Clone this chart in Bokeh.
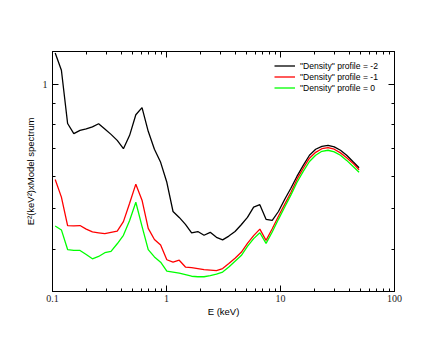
from bokeh.plotting import figure
from bokeh.models import (FixedTicker, CustomJSTickFormatter, LogAxis, Legend,
                          LegendItem, Range1d)
from bokeh.embed import file_html
from bokeh.resources import INLINE

# Energy grid (keV)
energy = [0.1056, 0.1197, 0.1357, 0.1538, 0.1743, 0.1976, 0.2239, 0.2538, 0.2877, 0.3261,
          0.3696, 0.4189, 0.4748, 0.5382, 0.6100, 0.6914, 0.7836, 0.8882, 1.0067, 1.141,
          1.293, 1.466, 1.661, 1.883, 2.134, 2.419, 2.742, 3.108, 3.522, 3.992,
          4.525, 5.129, 5.813, 6.589, 7.468, 8.464, 9.594, 10.87, 12.33, 13.97,
          15.84, 17.95, 20.34, 23.06, 26.13, 29.62, 33.57, 38.05, 43.13, 48.88]

# "Density" profile = -2
prof_m2 = [1.19, 1.081, 0.804, 0.760, 0.774, 0.780, 0.789, 0.803, 0.780, 0.757,
           0.732, 0.699, 0.753, 0.844, 0.878, 0.770, 0.697, 0.648, 0.580, 0.493,
           0.477, 0.459, 0.438, 0.441, 0.432, 0.439, 0.427, 0.421, 0.430, 0.441,
           0.458, 0.477, 0.505, 0.512, 0.472, 0.469, 0.493, 0.527, 0.561, 0.600,
           0.637, 0.674, 0.697, 0.708, 0.712, 0.706, 0.693, 0.674, 0.651, 0.629]

# "Density" profile = -1
prof_m1 = [0.589, 0.534, 0.456, 0.455, 0.456, 0.447, 0.440, 0.438, 0.436, 0.439,
           0.442, 0.466, 0.516, 0.574, 0.525, 0.449, 0.422, 0.409, 0.377, 0.372,
           0.376, 0.362, 0.361, 0.359, 0.357, 0.356, 0.355, 0.359, 0.369, 0.380,
           0.393, 0.413, 0.431, 0.447, 0.420, 0.448, 0.480, 0.513, 0.548, 0.590,
           0.627, 0.663, 0.685, 0.699, 0.703, 0.697, 0.683, 0.665, 0.645, 0.622]

# "Density" profile = 0
prof_0 = [0.455, 0.445, 0.399, 0.397, 0.397, 0.388, 0.379, 0.384, 0.392, 0.395,
          0.412, 0.432, 0.469, 0.519, 0.454, 0.399, 0.383, 0.372, 0.354, 0.352,
          0.350, 0.347, 0.344, 0.343, 0.343, 0.345, 0.348, 0.352, 0.362, 0.374,
          0.386, 0.406, 0.424, 0.438, 0.413, 0.440, 0.472, 0.505, 0.540, 0.580,
          0.616, 0.651, 0.674, 0.689, 0.693, 0.687, 0.674, 0.655, 0.634, 0.613]

series_labels = ['"Density" profile = -2', '"Density" profile = -1', '"Density" profile = 0']
series_colors = ["#000000", "#ff0000", "#00ff00"]

x_major = [0.1, 1, 10, 100]
x_minor = [0.2, 0.3, 0.4, 0.5, 0.6, 0.7, 0.8, 0.9, 2, 3, 4, 5, 6, 7, 8, 9,
           20, 30, 40, 50, 60, 70, 80, 90]
y_major = [1]
y_minor = [0.4, 0.5, 0.6, 0.7, 0.8, 0.9]

p = figure(width=436, height=335, x_axis_type="log", y_axis_type="log",
           x_range=Range1d(0.1, 100), y_range=Range1d(0.316, 1.2),
           output_backend="svg", toolbar_location=None,
           min_border_left=52, min_border_right=42, min_border_top=51,
           min_border_bottom=44)
p.xgrid.visible = False
p.ygrid.visible = False
p.outline_line_color = "black"
p.outline_line_width = 1
p.background_fill_color = "white"
p.border_fill_color = "white"

fmt = CustomJSTickFormatter(code="return tick.toString();")
blank = CustomJSTickFormatter(code="return '';")

def style_axis(ax, major, minor, formatter):
    ax.ticker = FixedTicker(ticks=major, minor_ticks=minor)
    ax.formatter = formatter
    ax.major_tick_in = 6
    ax.major_tick_out = 0
    ax.minor_tick_in = 3
    ax.minor_tick_out = 0
    ax.axis_line_color = "black"
    ax.major_tick_line_color = "black"
    ax.minor_tick_line_color = "black"
    ax.major_label_text_font = "Liberation Serif"
    ax.major_label_text_font_size = "10px"
    ax.major_label_text_color = "#222222"
    ax.axis_label_text_font = "Liberation Sans"
    ax.axis_label_text_font_size = "9.5px"
    ax.axis_label_text_font_style = "normal"
    ax.axis_label_text_color = "black"

style_axis(p.xaxis[0], x_major, x_minor, fmt)
style_axis(p.yaxis[0], y_major, y_minor, fmt)
p.xaxis[0].axis_label = "E (keV)"
p.xaxis[0].major_label_standoff = 3
p.xaxis[0].axis_label_standoff = 1
p.yaxis[0].axis_label = "E\u00b2(keV\u00b2)xModel spectrum"
p.yaxis[0].major_label_standoff = 5
p.yaxis[0].axis_label_standoff = 4

top_ax = LogAxis()
style_axis(top_ax, x_major, x_minor, blank)
p.add_layout(top_ax, "above")
right_ax = LogAxis()
style_axis(right_ax, y_major, y_minor, blank)
p.add_layout(right_ax, "right")

items = []
for ys, lab, col in zip([prof_m2, prof_m1, prof_0], series_labels, series_colors):
    r = p.line(energy, ys, line_color=col, line_width=1.3)
    items.append(LegendItem(label=lab, renderers=[r]))

legend = Legend(items=items, location=(222, 198))
legend.background_fill_alpha = 0
legend.border_line_color = None
legend.padding = 0
legend.margin = 0
legend.spacing = 0
legend.label_height = 11
legend.glyph_height = 11
legend.glyph_width = 21
legend.label_standoff = 5
legend.label_text_font = "Liberation Sans"
legend.label_text_font_size = "8.6px"
legend.label_text_color = "black"
p.add_layout(legend, "center")

open("out.html", "w").write(file_html(p, INLINE))
